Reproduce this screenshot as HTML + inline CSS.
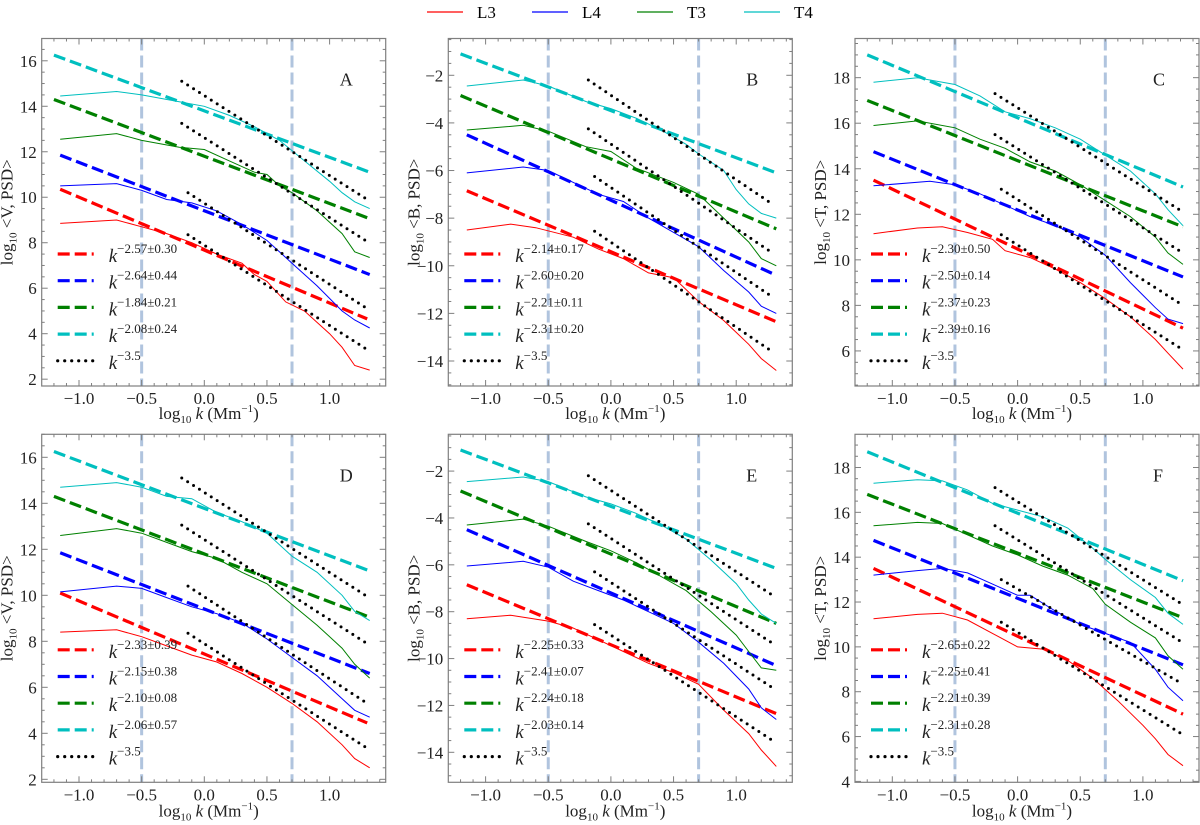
<!DOCTYPE html>
<html><head><meta charset="utf-8">
<style>
html,body{margin:0;padding:0;background:#fff;}
svg{display:block;}
svg text{font-family:"Liberation Serif","DejaVu Serif","Times New Roman",serif;}
</style></head>
<body>
<svg id="fig" width="1200" height="825" viewBox="0 0 1200 825" xmlns="http://www.w3.org/2000/svg">
<g id="toplegend"></g>
</svg>
<script>
// ---- data ----
const seriesNames = ["L3","L4","T3","T4"];
const panelLabels = ["A","B","C","D","E","F"];
const yLabels = ["V","B","T","V","B","T"];
const yDomains = [[1.7,16.98],[-15.05,-0.455],[4.46,19.72],[1.87,17.0],[-15.28,-0.43],[3.96,19.48]];
const yTicks = [[2,4,6,8,10,12,14,16],[-14,-12,-10,-8,-6,-4,-2],[6,8,10,12,14,16,18],[2,4,6,8,10,12,14,16],[-14,-12,-10,-8,-6,-4,-2],[4,6,8,10,12,14,16,18]];
const xTicks = [-1.0,-0.5,0.0,0.5,1.0];
const vLines = [-0.5,0.7];
const fitLabels = [
 ["−2.57±0.30","−2.64±0.44","−1.84±0.21","−2.08±0.24"],
 ["−2.14±0.17","−2.60±0.20","−2.21±0.11","−2.31±0.20"],
 ["−2.30±0.50","−2.50±0.14","−2.37±0.23","−2.39±0.16"],
 ["−2.33±0.39","−2.15±0.38","−2.10±0.08","−2.06±0.57"],
 ["−2.25±0.33","−2.41±0.07","−2.24±0.18","−2.03±0.14"],
 ["−2.65±0.22","−2.25±0.41","−2.21±0.39","−2.31±0.28"]];
const curves = [
 [
  [[-1.15,8.85],[-0.7,9.0],[-0.5,8.7],[-0.3,8.4],[-0.1,8.0],[0.1,7.5],[0.3,7.1],[0.4,6.6],[0.5,6.3],[0.65,5.4],[0.8,5.0],[1.0,4.0],[1.1,3.4],[1.2,2.6],[1.32,2.4]],
  [[-1.15,10.5],[-0.7,10.6],[-0.5,10.3],[-0.3,9.9],[-0.1,9.75],[0.1,9.4],[0.3,8.8],[0.5,8.1],[0.7,7.1],[0.9,6.1],[1.1,5.0],[1.2,4.6],[1.32,4.25]],
  [[-1.15,12.55],[-0.7,12.8],[-0.5,12.5],[-0.2,12.2],[0,12.1],[0.2,11.6],[0.4,11.1],[0.5,11.0],[0.6,10.5],[0.7,10.2],[0.9,9.4],[1.1,8.4],[1.2,7.6],[1.32,7.35]],
  [[-1.15,14.45],[-0.7,14.65],[-0.5,14.5],[-0.2,14.2],[0,14.0],[0.2,13.6],[0.4,13.1],[0.6,12.5],[0.8,11.6],[1.0,10.7],[1.1,10.2],[1.2,9.8],[1.32,9.5]]],
 [
  [[-1.15,-8.5],[-0.8,-8.25],[-0.6,-8.4],[-0.3,-8.8],[-0.1,-9.3],[0.1,-9.7],[0.3,-10.3],[0.5,-10.5],[0.7,-11.5],[0.9,-12.3],[1.0,-12.8],[1.1,-13.3],[1.2,-13.9],[1.32,-14.4]],
  [[-1.15,-6.1],[-0.7,-5.85],[-0.5,-6.0],[-0.3,-6.5],[-0.1,-7.0],[0.1,-7.3],[0.3,-8.0],[0.5,-8.6],[0.7,-9.2],[0.9,-10.2],[1.1,-11.1],[1.2,-11.7],[1.32,-12.0]],
  [[-1.15,-4.3],[-0.7,-4.1],[-0.5,-4.35],[-0.2,-5.0],[0,-5.2],[0.2,-5.9],[0.5,-6.5],[0.7,-7.0],[0.9,-8.0],[1.1,-9.0],[1.2,-9.7],[1.32,-10.0]],
  [[-1.15,-2.45],[-0.7,-2.2],[-0.5,-2.45],[-0.2,-3.1],[0,-3.4],[0.2,-3.8],[0.4,-4.3],[0.6,-4.9],[0.7,-5.3],[0.9,-6.0],[1.0,-6.8],[1.1,-7.4],[1.2,-7.8],[1.32,-8.0]]],
 [
  [[-1.15,11.15],[-0.8,11.4],[-0.6,11.45],[-0.4,11.2],[-0.2,10.9],[-0.1,10.4],[0.1,10.1],[0.3,9.6],[0.5,9.0],[0.7,8.3],[0.9,7.5],[1.1,6.5],[1.2,5.9],[1.32,5.2]],
  [[-1.15,13.25],[-0.7,13.45],[-0.5,13.3],[-0.3,12.9],[-0.1,12.4],[0.1,11.9],[0.3,11.5],[0.5,11.0],[0.7,10.2],[0.9,9.0],[1.1,7.9],[1.2,7.4],[1.32,7.2]],
  [[-1.15,15.9],[-0.8,16.1],[-0.5,15.8],[-0.3,15.3],[-0.1,14.9],[0.1,14.3],[0.3,13.9],[0.5,13.3],[0.7,12.6],[0.9,11.9],[1.1,11.0],[1.2,10.3],[1.32,9.8]],
  [[-1.15,17.8],[-0.8,18.0],[-0.5,17.7],[-0.3,17.2],[-0.1,16.5],[0.1,16.2],[0.3,15.8],[0.5,15.3],[0.7,14.6],[0.9,13.9],[1.1,12.9],[1.2,12.2],[1.32,11.5]]],
 [
  [[-1.15,8.4],[-0.7,8.5],[-0.5,8.2],[-0.3,7.8],[-0.1,7.4],[0.1,7.1],[0.3,6.6],[0.5,6.0],[0.7,5.3],[0.9,4.5],[1.1,3.5],[1.2,2.9],[1.32,2.5]],
  [[-1.15,10.15],[-0.7,10.4],[-0.5,10.3],[-0.3,9.9],[-0.1,9.5],[0.1,9.2],[0.3,8.8],[0.5,8.1],[0.7,7.3],[0.9,6.5],[1.1,5.5],[1.2,5.0],[1.32,4.7]],
  [[-1.15,12.6],[-0.7,12.9],[-0.5,12.7],[-0.3,12.3],[-0.1,11.9],[0.1,11.6],[0.3,11.0],[0.5,10.5],[0.7,9.6],[0.9,8.7],[1.1,7.7],[1.2,7.0],[1.32,6.4]],
  [[-1.15,14.7],[-0.7,14.9],[-0.5,14.7],[-0.3,14.3],[-0.1,14.2],[0.1,13.6],[0.3,13.2],[0.5,12.7],[0.6,12.2],[0.7,11.7],[0.9,11.0],[1.1,10.0],[1.2,9.3],[1.32,8.9]]],
 [
  [[-1.15,-8.3],[-0.8,-8.15],[-0.5,-8.4],[-0.3,-8.7],[-0.1,-9.2],[0.1,-9.7],[0.3,-10.2],[0.5,-10.6],[0.7,-11.1],[0.9,-12.2],[1.1,-13.2],[1.2,-13.9],[1.32,-14.6]],
  [[-1.15,-6.05],[-0.7,-5.85],[-0.5,-6.1],[-0.3,-6.7],[-0.1,-7.1],[0.1,-7.5],[0.3,-8.0],[0.5,-8.5],[0.7,-9.3],[0.9,-10.2],[1.1,-11.3],[1.2,-12.1],[1.32,-12.6]],
  [[-1.15,-4.3],[-0.7,-4.05],[-0.5,-4.35],[-0.2,-5.0],[0,-5.4],[0.2,-5.9],[0.4,-6.5],[0.6,-7.1],[0.8,-8.0],[1.0,-9.0],[1.1,-9.7],[1.2,-10.4],[1.32,-10.5]],
  [[-1.15,-2.45],[-0.7,-2.25],[-0.5,-2.45],[-0.2,-3.1],[0,-3.4],[0.2,-3.8],[0.4,-4.3],[0.6,-4.9],[0.8,-5.8],[1.0,-6.8],[1.1,-7.5],[1.2,-8.1],[1.32,-8.5]]],
 [
  [[-1.15,11.25],[-0.8,11.45],[-0.6,11.5],[-0.4,11.2],[-0.2,10.6],[0,10.0],[0.2,9.9],[0.4,9.4],[0.6,8.6],[0.8,7.6],[1.0,6.5],[1.1,5.9],[1.2,5.2],[1.32,4.7]],
  [[-1.15,13.2],[-0.8,13.4],[-0.6,13.5],[-0.4,13.3],[-0.2,12.8],[0,12.3],[0.1,12.3],[0.3,11.6],[0.5,11.0],[0.7,10.6],[0.9,10.2],[1.1,9.0],[1.2,8.2],[1.32,7.6]],
  [[-1.15,15.4],[-0.8,15.55],[-0.6,15.5],[-0.4,15.0],[-0.2,14.5],[0,14.1],[0.2,13.6],[0.4,13.2],[0.6,12.6],[0.7,11.9],[0.9,11.1],[1.1,10.4],[1.2,9.6],[1.32,9.0]],
  [[-1.15,17.3],[-0.8,17.45],[-0.6,17.4],[-0.4,17.0],[-0.2,16.4],[0,16.1],[0.2,15.8],[0.4,15.3],[0.6,14.4],[0.7,13.9],[0.9,13.0],[1.1,12.2],[1.2,11.5],[1.32,11.0]]]
];
const fits = [
 [[-1.15,10.35,1.3,4.65],[-1.15,11.85,1.32,6.6],[-1.2,14.3,1.3,9.1],[-1.2,16.25,1.32,11.1]],
 [[-1.15,-6.85,1.32,-12.35],[-1.15,-4.5,1.32,-10.4],[-1.2,-2.85,1.32,-8.45],[-1.2,-1.1,1.32,-6.1]],
 [[-1.15,13.5,1.32,7.0],[-1.15,14.75,1.32,9.25],[-1.2,17.0,1.32,11.45],[-1.2,19.0,1.32,13.2]],
 [[-1.15,10.1,1.3,4.45],[-1.15,11.85,1.32,6.6],[-1.2,14.3,1.32,9.05],[-1.2,16.25,1.3,11.1]],
 [[-1.15,-6.85,1.32,-12.35],[-1.15,-4.5,1.32,-10.3],[-1.2,-2.85,1.32,-8.5],[-1.2,-1.1,1.32,-6.15]],
 [[-1.15,13.5,1.32,7.0],[-1.15,14.75,1.32,9.2],[-1.2,16.8,1.32,11.3],[-1.2,18.7,1.32,12.95]]
];
const refs = [
 [[-0.13,8.35,1.3,3.3],[-0.13,10.2,1.3,5.1],[-0.18,13.25,1.3,8.05],[-0.18,15.1,1.3,9.9]],
 [[-0.13,-8.55,1.3,-13.65],[-0.13,-6.25,1.3,-11.35],[-0.18,-4.25,1.3,-9.5],[-0.18,-2.2,1.3,-7.45]],
 [[-0.13,11.1,1.32,6.05],[-0.13,13.1,1.32,8.0],[-0.18,15.5,1.32,10.3],[-0.18,17.3,1.32,12.1]],
 [[-0.13,8.35,1.3,3.35],[-0.13,10.4,1.3,5.3],[-0.18,13.05,1.3,7.9],[-0.18,15.1,1.3,9.95]],
 [[-0.13,-8.55,1.32,-13.6],[-0.13,-6.3,1.32,-11.35],[-0.18,-4.25,1.32,-9.45],[-0.18,-2.2,1.32,-7.4]],
 [[-0.13,11.1,1.3,6.15],[-0.13,13.0,1.3,8.4],[-0.18,15.4,1.3,10.25],[-0.18,17.1,1.3,11.95]]
];
// ---- rendering ----
const colors = ["#ff0000","#0000ff","#008000","#00bfbf"];
const FONT = '"Liberation Serif","DejaVu Serif",serif';
const NS = "http://www.w3.org/2000/svg";
const svg = document.getElementById('fig');
function mk(tag, attrs, parent){const e=document.createElementNS(NS,tag);for(const k in attrs)e.setAttribute(k,attrs[k]);if(tag==='text')e.setAttribute('font-family',FONT);(parent||svg).appendChild(e);return e;}
const boxes = [[41.7,38.5],[448.3,38.5],[855,38.5],[41.7,434.3],[448.3,434.3],[855,434.3]];
const BW = 344, BH_TOP = 347.5, BH_BOT = 348;
const xDom = [-1.2977, 1.4477];

const tl = document.getElementById('toplegend');
const tlx = [427,532,637,744];
seriesNames.forEach((n,i)=>{
  const ln = mk('line',{x1:tlx[i],y1:12,x2:tlx[i]+36,y2:12,stroke:colors[i],'stroke-width':1.2},tl);
  
  
  const t = mk('text',{x:tlx[i]+50,y:18,'font-size':17,fill:'#000'},tl);
  t.textContent = n;
  
  
});

panelLabels.forEach((lab,p)=>{
  const [L,T] = boxes[p];
  const H = p<3?BH_TOP:BH_BOT;
  const yd = yDomains[p];
  const sx = v => L + (v - xDom[0])/(xDom[1]-xDom[0])*BW;
  const sy = v => T + H - (v - yd[0])/(yd[1]-yd[0])*H;
  const g = mk('g',{});
  
  
  const clipId='clip'+p;
  const cp = mk('clipPath',{id:clipId},g); mk('rect',{x:L,y:T,width:BW,height:H},cp);
  const plot = mk('g',{'clip-path':'url(#'+clipId+')'},g);
  vLines.forEach(v=>{
    const l=mk('line',{x1:sx(v),x2:sx(v),y1:T,y2:T+H,stroke:'#b0c4de','stroke-width':3,'stroke-dasharray':'12,5'},plot);
    
    
  });
  fits[p].forEach((f,i)=>{
    const l=mk('line',{x1:sx(f[0]),y1:sy(f[1]),x2:sx(f[2]),y2:sy(f[3]),stroke:colors[i],'stroke-width':3.2,'stroke-dasharray':'12,5'},plot);
    
    
  });
  curves[p].forEach((c,i)=>{
    const d = c.map((pt,j)=>(j?'L':'M')+sx(pt[0]).toFixed(1)+','+sy(pt[1]).toFixed(1)).join(' ');
    const pa=mk('path',{d:d,fill:'none',stroke:colors[i],'stroke-width':1},plot);
    
    
  });
  refs[p].forEach((f,i)=>{
    const l=mk('line',{x1:sx(f[0]),y1:sy(f[1]),x2:sx(f[2]),y2:sy(f[3]),stroke:'#000','stroke-width':3,'stroke-dasharray':'0,7','stroke-linecap':'round'},plot);
    
    
  });
  const fr=mk('rect',{x:L,y:T,width:BW,height:H,fill:'none',stroke:'#7f7f7f','stroke-width':1.2},g);
  
  
  const tk = mk('g',{stroke:'#7f7f7f','stroke-width':1},g);
  for(let v=-1.2; v<=1.41; v+=0.1){
    const vv=Math.round(v*10)/10; const major=Math.abs(vv*2-Math.round(vv*2))<1e-6; const len=major?6:3;
    mk('line',{x1:sx(vv),x2:sx(vv),y1:T+H,y2:T+H-len},tk);
    mk('line',{x1:sx(vv),x2:sx(vv),y1:T,y2:T+len},tk);
  }
  xTicks.forEach(v=>{
    const t=mk('text',{x:sx(v),y:T+H+18,'text-anchor':'middle','font-size':17,fill:'#222'},g);
    t.textContent=(v<0?'−':'')+Math.abs(v).toFixed(1);
    
    
  });
  for(let v=Math.ceil(yd[0]*2)/2; v<=yd[1]; v+=0.5){
    const major=Math.abs(v/2-Math.round(v/2))<1e-6; const len=major?6:3;
    mk('line',{x1:L,x2:L+len,y1:sy(v),y2:sy(v)},tk);
    mk('line',{x1:L+BW,x2:L+BW-len,y1:sy(v),y2:sy(v)},tk);
  }
  yTicks[p].forEach(v=>{
    const t=mk('text',{x:L-5,y:sy(v)+6,'text-anchor':'end','font-size':17,fill:'#222'},g);
    t.textContent=(v<0?'−':'')+Math.abs(v);
    
    
  });
  const xt=mk('text',{x:L+BW/2-5,y:T+H+(p<3?33:34),'text-anchor':'middle','font-size':17,fill:'#222'},g);
  xt.innerHTML='log<tspan font-size="11" dy="4">10</tspan><tspan dy="-4" font-style="italic"> k</tspan> (Mm<tspan font-size="11" dy="-7">−1</tspan><tspan dy="7">)</tspan>';
  
  
  const yt=mk('text',{transform:'translate('+(L-29)+','+(T+H/2)+') rotate(-90)','text-anchor':'middle','font-size':17,fill:'#222'},g);
  yt.innerHTML='log<tspan font-size="11" dy="4">10</tspan><tspan dy="-4"> &lt;'+yLabels[p]+', PSD&gt;</tspan>';
  
  
  const pl=mk('text',{x:L+298,y:T+47,'font-size':18,fill:'#222'},g);
  pl.textContent=lab;
  
  
  const lg=mk('g',{},g);
  
  
  for(let i=0;i<5;i++){
    const yy=T+215.5+i*26.7;
    const isRef=i===4;
    const ln=mk('line',{x1:L+16,y1:yy,x2:L+52,y2:yy,stroke:isRef?'#000':colors[i],'stroke-width':3.2,'stroke-dasharray':isRef?'0,7':'12,5','stroke-linecap':isRef?'round':'butt'},lg);
    
    
    const t=mk('text',{x:L+67,y:yy+8,'font-size':19,fill:'#222'},lg);
    t.innerHTML='<tspan font-style="italic">k</tspan><tspan font-size="13" dy="-9">'+(isRef?'−3.5':fitLabels[p][i])+'</tspan>';
    
    
  }
});
</script>
</body></html>
